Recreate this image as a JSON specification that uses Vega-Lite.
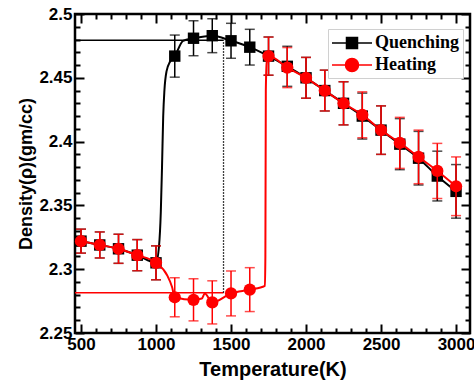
{
  "$schema": "https://vega.github.io/schema/vega-lite/v6.json",
  "width": 395,
  "height": 319,
  "autosize": {"type": "none"},
  "padding": {"left": 75, "top": 14, "right": 4, "bottom": 50},
  "background": "#ffffff",
  "config": {
    "view": {"stroke": "#000000", "strokeWidth": 2.5},
    "axis": {"domain": false, "grid": false, "tickColor": "#000000", "tickWidth": 2, "labelColor": "#000000", "titleColor": "#000000", "labelFont": "Liberation Sans", "labelFontWeight": "bold", "labelFontSize": 17, "titleFont": "Liberation Sans", "titleFontWeight": "bold", "labelFlush": false, "labelOverlap": false},
    "legend": {"symbolSize": 400, "symbolStrokeWidth": 1.5, "labelFont": "Liberation Serif", "labelFontWeight": "bold", "labelFontSize": 18, "labelColor": "#000000", "strokeColor": "#d0d0d0", "fillColor": "#ffffff", "padding": 3, "rowPadding": 2, "symbolOffset": 10, "labelOffset": 12}
  },
  "datasets": {
    "quench": [
      {"T": 500, "rho": 2.322, "err": 0.0094},
      {"T": 625, "rho": 2.319, "err": 0.0102},
      {"T": 750, "rho": 2.316, "err": 0.0114},
      {"T": 875, "rho": 2.311, "err": 0.0122},
      {"T": 1000, "rho": 2.305, "err": 0.0133},
      {"T": 1125, "rho": 2.467, "err": 0.0165},
      {"T": 1250, "rho": 2.481, "err": 0.0137},
      {"T": 1375, "rho": 2.483, "err": 0.0133},
      {"T": 1500, "rho": 2.479, "err": 0.0137},
      {"T": 1625, "rho": 2.474, "err": 0.014},
      {"T": 1750, "rho": 2.467, "err": 0.015},
      {"T": 1875, "rho": 2.459, "err": 0.0157},
      {"T": 2000, "rho": 2.45, "err": 0.016},
      {"T": 2125, "rho": 2.44, "err": 0.016},
      {"T": 2250, "rho": 2.43, "err": 0.0169},
      {"T": 2375, "rho": 2.42, "err": 0.018},
      {"T": 2500, "rho": 2.409, "err": 0.019},
      {"T": 2625, "rho": 2.398, "err": 0.02},
      {"T": 2750, "rho": 2.387, "err": 0.021},
      {"T": 2875, "rho": 2.373, "err": 0.0195},
      {"T": 3000, "rho": 2.361, "err": 0.021}
    ],
    "heat": [
      {"T": 500, "rho": 2.322, "err": 0.0094},
      {"T": 625, "rho": 2.319, "err": 0.0102},
      {"T": 750, "rho": 2.316, "err": 0.0114},
      {"T": 875, "rho": 2.311, "err": 0.0122},
      {"T": 1000, "rho": 2.305, "err": 0.0133},
      {"T": 1125, "rho": 2.278, "err": 0.0153},
      {"T": 1250, "rho": 2.276, "err": 0.0165},
      {"T": 1375, "rho": 2.274, "err": 0.0169},
      {"T": 1500, "rho": 2.281, "err": 0.0176},
      {"T": 1625, "rho": 2.284, "err": 0.0172},
      {"T": 1750, "rho": 2.467, "err": 0.0149},
      {"T": 1875, "rho": 2.458, "err": 0.0157},
      {"T": 2000, "rho": 2.45, "err": 0.016},
      {"T": 2125, "rho": 2.44, "err": 0.016},
      {"T": 2250, "rho": 2.43, "err": 0.0169},
      {"T": 2375, "rho": 2.421, "err": 0.018},
      {"T": 2500, "rho": 2.409, "err": 0.019},
      {"T": 2625, "rho": 2.399, "err": 0.02},
      {"T": 2750, "rho": 2.388, "err": 0.021},
      {"T": 2875, "rho": 2.377, "err": 0.0216},
      {"T": 3000, "rho": 2.365, "err": 0.023}
    ],
    "qcurve": [
      {"T": 500, "rho": 2.322}, {"T": 625, "rho": 2.319}, {"T": 750, "rho": 2.316}, {"T": 875, "rho": 2.311},
      {"T": 1000, "rho": 2.305}, {"T": 1020, "rho": 2.318}, {"T": 1032, "rho": 2.345}, {"T": 1040, "rho": 2.38},
      {"T": 1048, "rho": 2.42}, {"T": 1056, "rho": 2.44}, {"T": 1070, "rho": 2.455}, {"T": 1095, "rho": 2.463},
      {"T": 1125, "rho": 2.467}, {"T": 1180, "rho": 2.479}, {"T": 1250, "rho": 2.481}, {"T": 1375, "rho": 2.483},
      {"T": 1500, "rho": 2.479}, {"T": 1625, "rho": 2.474}, {"T": 1750, "rho": 2.467}, {"T": 1875, "rho": 2.459},
      {"T": 2000, "rho": 2.45}, {"T": 2125, "rho": 2.44}, {"T": 2250, "rho": 2.43}, {"T": 2375, "rho": 2.42},
      {"T": 2500, "rho": 2.409}, {"T": 2625, "rho": 2.398}, {"T": 2750, "rho": 2.387}, {"T": 2875, "rho": 2.373},
      {"T": 3000, "rho": 2.361}
    ],
    "hcurve": [
      {"T": 500, "rho": 2.322}, {"T": 625, "rho": 2.319}, {"T": 750, "rho": 2.316}, {"T": 875, "rho": 2.311},
      {"T": 1000, "rho": 2.305}, {"T": 1073, "rho": 2.2955}, {"T": 1107, "rho": 2.286}, {"T": 1125, "rho": 2.278},
      {"T": 1250, "rho": 2.276}, {"T": 1305, "rho": 2.277}, {"T": 1325, "rho": 2.281}, {"T": 1375, "rho": 2.274},
      {"T": 1500, "rho": 2.281}, {"T": 1625, "rho": 2.284}, {"T": 1726, "rho": 2.287}, {"T": 1729, "rho": 2.31},
      {"T": 1732, "rho": 2.44}, {"T": 1738, "rho": 2.462}, {"T": 1750, "rho": 2.467}, {"T": 1875, "rho": 2.458},
      {"T": 2000, "rho": 2.45}, {"T": 2125, "rho": 2.44}, {"T": 2250, "rho": 2.43}, {"T": 2375, "rho": 2.421},
      {"T": 2500, "rho": 2.409}, {"T": 2625, "rho": 2.399}, {"T": 2750, "rho": 2.388}, {"T": 2875, "rho": 2.377},
      {"T": 3000, "rho": 2.365}
    ],
    "series": [{"s": "Quenching"}, {"s": "Heating"}],
    "refQ": [{"T0": 460, "T1": 1450, "rho": 2.4795}],
    "refH": [{"T0": 460, "T1": 1450, "rho": 2.2815}],
    "tg": [{"T": 1450, "lo": 2.2815, "hi": 2.4795}]
  },
  "resolve": {"axis": {"x": "independent", "y": "independent"}},
  "layer": [
    {
      "data": {"name": "refQ"},
      "mark": {"type": "rule", "strokeWidth": 1.5, "color": "#000000"},
      "encoding": {
        "x": {"field": "T0", "type": "quantitative", "scale": {"domain": [460, 3093], "nice": false, "zero": false},
          "axis": {"orient": "bottom", "values": [500,600,700,800,900,1000,1100,1200,1300,1400,1500,1600,1700,1800,1900,2000,2100,2200,2300,2400,2500,2600,2700,2800,2900,3000],
            "format": "d", "labelExpr": "datum.value % 500 === 0 ? datum.label : ''",
            "tickSize": {"condition": {"test": "datum.value % 500 === 0", "value": -9}, "value": -5},
            "labelPadding": 12, "title": "Temperature(K)", "titleFontSize": 20, "titlePadding": 3}},
        "x2": {"field": "T1"},
        "y": {"field": "rho", "type": "quantitative", "scale": {"domain": [2.25, 2.5], "nice": false, "zero": false},
          "axis": {"orient": "left", "values": [2.25,2.26,2.27,2.28,2.29,2.3,2.31,2.32,2.33,2.34,2.35,2.36,2.37,2.38,2.39,2.4,2.41,2.42,2.43,2.44,2.45,2.46,2.47,2.48,2.49,2.5],
            "labelExpr": "round(datum.value*100) % 5 === 0 ? format(datum.value, '~g') : ''",
            "tickSize": {"condition": {"test": "round(datum.value*100) % 5 === 0", "value": -9}, "value": -5},
            "labelPadding": 12, "title": "Density(ρ)(gm/cc)", "titleFontSize": 18, "titlePadding": 3}}
      }
    },
    {
      "data": {"name": "refH"},
      "mark": {"type": "rule", "strokeWidth": 1.5, "color": "#ff0000"},
      "encoding": {
        "x": {"field": "T0", "type": "quantitative", "scale": {"domain": [460, 3093], "nice": false, "zero": false}, "axis": null},
        "x2": {"field": "T1"},
        "y": {"field": "rho", "type": "quantitative", "scale": {"domain": [2.25, 2.5], "nice": false, "zero": false}, "axis": null}
      }
    },
    {
      "data": {"name": "tg"},
      "mark": {"type": "rule", "strokeWidth": 1.3, "strokeDash": [1.5, 1.5], "color": "#000000"},
      "encoding": {
        "x": {"field": "T", "type": "quantitative", "scale": {"domain": [460, 3093], "nice": false, "zero": false},
          "axis": {"orient": "top", "values": [500,600,700,800,900,1000,1100,1200,1300,1400,1500,1600,1700,1800,1900,2000,2100,2200,2300,2400,2500,2600,2700,2800,2900,3000],
            "labels": false, "title": null,
            "tickSize": {"condition": {"test": "datum.value % 500 === 0", "value": -9}, "value": -5}}},
        "y": {"field": "lo", "type": "quantitative", "scale": {"domain": [2.25, 2.5], "nice": false, "zero": false},
          "axis": {"orient": "right", "values": [2.25,2.26,2.27,2.28,2.29,2.3,2.31,2.32,2.33,2.34,2.35,2.36,2.37,2.38,2.39,2.4,2.41,2.42,2.43,2.44,2.45,2.46,2.47,2.48,2.49,2.5],
            "labels": false, "title": null,
            "tickSize": {"condition": {"test": "round(datum.value*100) % 5 === 0", "value": -9}, "value": -5}}},
        "y2": {"field": "hi"}
      }
    },
    {
      "data": {"name": "quench"},
      "mark": {"type": "errorbar", "color": "#000000", "thickness": 1.5, "ticks": {"size": 10, "thickness": 1.5}},
      "encoding": {
        "x": {"field": "T", "type": "quantitative", "scale": {"domain": [460, 3093], "nice": false, "zero": false}, "axis": null},
        "y": {"field": "rho", "type": "quantitative", "scale": {"domain": [2.25, 2.5], "nice": false, "zero": false}, "axis": null},
        "yError": {"field": "err"}
      }
    },
    {
      "data": {"name": "qcurve"},
      "mark": {"type": "line", "color": "#000000", "strokeWidth": 2, "interpolate": "monotone"},
      "encoding": {
        "x": {"field": "T", "type": "quantitative", "scale": {"domain": [460, 3093], "nice": false, "zero": false}, "axis": null},
        "y": {"field": "rho", "type": "quantitative", "scale": {"domain": [2.25, 2.5], "nice": false, "zero": false}, "axis": null}
      }
    },
    {
      "data": {"name": "quench"},
      "mark": {"type": "point", "shape": "square", "filled": true, "color": "#000000", "size": 130, "opacity": 1},
      "encoding": {
        "x": {"field": "T", "type": "quantitative", "scale": {"domain": [460, 3093], "nice": false, "zero": false}, "axis": null},
        "y": {"field": "rho", "type": "quantitative", "scale": {"domain": [2.25, 2.5], "nice": false, "zero": false}, "axis": null}
      }
    },
    {
      "data": {"name": "heat"},
      "mark": {"type": "errorbar", "color": "#ff0000", "thickness": 1.5, "ticks": {"size": 10, "thickness": 1.5}},
      "encoding": {
        "x": {"field": "T", "type": "quantitative", "scale": {"domain": [460, 3093], "nice": false, "zero": false}, "axis": null},
        "y": {"field": "rho", "type": "quantitative", "scale": {"domain": [2.25, 2.5], "nice": false, "zero": false}, "axis": null},
        "yError": {"field": "err"}
      }
    },
    {
      "data": {"name": "hcurve"},
      "mark": {"type": "line", "color": "#ff0000", "strokeWidth": 2, "interpolate": "monotone"},
      "encoding": {
        "x": {"field": "T", "type": "quantitative", "scale": {"domain": [460, 3093], "nice": false, "zero": false}, "axis": null},
        "y": {"field": "rho", "type": "quantitative", "scale": {"domain": [2.25, 2.5], "nice": false, "zero": false}, "axis": null}
      }
    },
    {
      "data": {"name": "heat"},
      "mark": {"type": "point", "shape": "circle", "filled": true, "color": "#ff0000", "size": 150, "opacity": 1},
      "encoding": {
        "x": {"field": "T", "type": "quantitative", "scale": {"domain": [460, 3093], "nice": false, "zero": false}, "axis": null},
        "y": {"field": "rho", "type": "quantitative", "scale": {"domain": [2.25, 2.5], "nice": false, "zero": false}, "axis": null}
      }
    },
    {
      "data": {"name": "series"},
      "transform": [{"filter": "datum.s === 'none'"}],
      "mark": {"type": "point", "filled": true, "strokeWidth": 1.5, "opacity": 1},
      "encoding": {
        "shape": {"field": "s", "type": "nominal",
          "scale": {"domain": ["Quenching", "Heating"], "range": ["M-2,0H-0.55M0.55,0H2M-0.55,-0.55H0.55V0.55H-0.55Z", "M-2,0H-0.65M0.65,0H2M-0.65,0A0.65,0.65,0,1,0,0.65,0A0.65,0.65,0,1,0,-0.65,0Z"]},
          "legend": {"orient": "none", "legendX": 253, "legendY": 15, "title": null}},
        "fill": {"field": "s", "type": "nominal", "scale": {"domain": ["Quenching", "Heating"], "range": ["#000000", "#ff0000"]}, "legend": {"orient": "none", "legendX": 253, "legendY": 15, "title": null}},
        "stroke": {"field": "s", "type": "nominal", "scale": {"domain": ["Quenching", "Heating"], "range": ["#000000", "#ff0000"]}, "legend": {"orient": "none", "legendX": 253, "legendY": 15, "title": null}}
      }
    }
  ]
}
